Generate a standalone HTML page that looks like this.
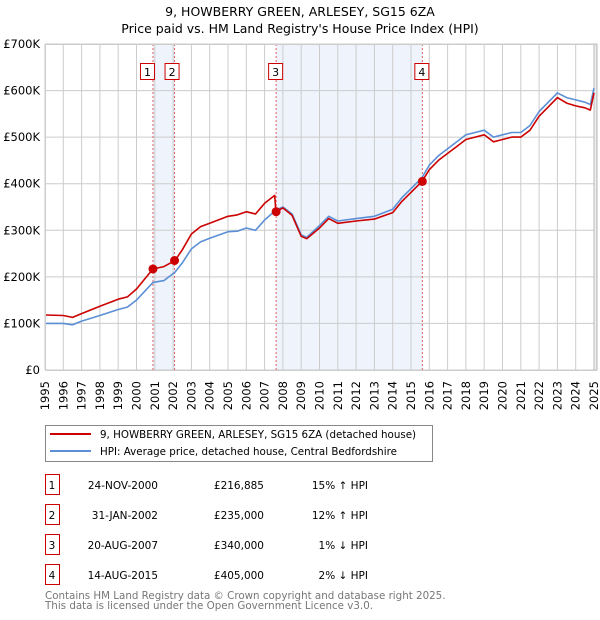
<!DOCTYPE html>
<html><head><meta charset="utf-8"><style>
body{margin:0;width:600px;height:620px;background:#fff;font-family:"Liberation Sans","DejaVu Sans",sans-serif;overflow:hidden}
svg{display:block}
</style></head><body>
<svg id="c" width="600" height="620" xmlns="http://www.w3.org/2000/svg" font-family="DejaVu Sans, Liberation Sans, sans-serif">
<text x="300" y="16" text-anchor="middle" font-size="12.5">9, HOWBERRY GREEN, ARLESEY, SG15 6ZA</text>
<text x="300" y="33" text-anchor="middle" font-size="12.5">Price paid vs. HM Land Registry's House Price Index (HPI)</text>
<g id="plot"></g>
<g>
<rect x="45.5" y="425.5" width="387" height="36" fill="#fff" stroke="#888"/>
<line x1="50" y1="434" x2="91" y2="434" stroke="#cc0000" stroke-width="2"/>
<text x="100" y="438" font-size="10.3">9, HOWBERRY GREEN, ARLESEY, SG15 6ZA (detached house)</text>
<line x1="50" y1="451" x2="91" y2="451" stroke="#5b8fd6" stroke-width="2"/>
<text x="100" y="455" font-size="10.3">HPI: Average price, detached house, Central Bedfordshire</text>
</g>
<g id="table" font-size="10.5"></g>
<text x="45" y="599" font-size="10.3" fill="#777">Contains HM Land Registry data © Crown copyright and database right 2025.</text>
<text x="45" y="609" font-size="10.3" fill="#777">This data is licensed under the Open Government Licence v3.0.</text>
</svg>
<script>
const hpiYears=[1995,1996,1996.5,1997,1998,1999,1999.5,2000,2000.9,2001.5,2002.1,2002.5,2003,2003.5,2004,2005,2005.5,2006,2006.5,2007,2007.6,2008,2008.5,2009,2009.3,2010,2010.5,2011,2012,2013,2014,2014.5,2015.6,2016,2016.5,2017,2017.5,2018,2018.5,2019,2019.5,2020,2020.5,2021,2021.5,2022,2022.5,2023,2023.5,2024,2024.5,2024.8,2025];
const hpiValues=[100,100,97,105,117,130,135,150,188,192,210,230,260,275,283,297,298,305,300,322,343,350,335,290,285,310,330,320,325,330,345,370,413,440,460,475,490,505,510,515,500,505,510,510,525,555,575,595,585,580,575,570,605];
const propYears=[1995,1996,1996.5,1997,1998,1999,1999.5,2000,2000.9,2001.5,2002.1,2002.5,2003,2003.5,2004,2005,2005.5,2006,2006.5,2007,2007.55,2007.62,2008,2008.5,2009,2009.3,2010,2010.5,2011,2012,2013,2014,2014.5,2015.6,2016,2016.5,2017,2017.5,2018,2018.5,2019,2019.5,2020,2020.5,2021,2021.5,2022,2022.5,2023,2023.5,2024,2024.5,2024.8,2025];
const propValues=[118,117,113,121,137,152,157,174,217,222,235,258,292,308,315,330,333,340,335,358,375,340,348,332,287,282,305,325,315,320,324,338,362,405,430,450,465,480,495,500,505,490,495,500,500,515,545,565,585,573,567,563,558,595];
const saleLabels=["1","2","3","4"];
const saleYears=[2000.9,2002.08,2007.63,2015.62];
const saleValues=[216.885,235,340,405];
const saleDates=["24-NOV-2000","31-JAN-2002","20-AUG-2007","14-AUG-2015"];
const salePrices=["£216,885","£235,000","£340,000","£405,000"];
const saleHpi=["15% ↑ HPI","12% ↑ HPI","1% ↓ HPI","2% ↓ HPI"];
const yTicks=[0,100,200,300,400,500,600,700];
const yTickLabels=["£0","£100K","£200K","£300K","£400K","£500K","£600K","£700K"];

const NS="http://www.w3.org/2000/svg";
const X0=45,X1=597,Y0=370,Y1=44;
const xs=y=>X0+(y-1995)*18.3;
const ys=v=>Y0-(v/700)*(Y0-Y1);
const plot=document.getElementById('plot');
function mk(tag,attrs,parent){const e=document.createElementNS(NS,tag);for(const k in attrs)e.setAttribute(k,attrs[k]);(parent||plot).appendChild(e);return e;}
for(const [a,b] of [[0,1],[2,3]]){
 const r=mk('rect',{x:xs(saleYears[a]),y:Y1,width:xs(saleYears[b])-xs(saleYears[a]),height:Y0-Y1,fill:'#eef3fc'});
 
 
}
for(let yr=1995;yr<=2025;yr++){
 const l=mk('line',{x1:xs(yr),x2:xs(yr),y1:Y1,y2:Y0,stroke:'#ccc','stroke-width':1});
 
 
 const tx=xs(yr)+4,ty=381;
 const t=mk('text',{x:tx,y:ty,'text-anchor':'end','font-size':11.5,transform:`rotate(-90 ${tx} ${ty})`});
 t.textContent=yr;
 
 
}
yTicks.forEach((v,i)=>{
 const l=mk('line',{x1:X0,x2:X1,y1:ys(v),y2:ys(v),stroke:'#ccc','stroke-width':1});
 
 
 const t=mk('text',{x:40,y:ys(v)+4,'text-anchor':'end','font-size':11.5});
 t.textContent=yTickLabels[i];
 
 
});
const hz=mk('rect',{x:xs(2025),y:Y1,width:X1-xs(2025),height:Y0-Y1,fill:'#eee',stroke:'#bbb'});


saleYears.forEach((s,i)=>{
 const l=mk('line',{x1:xs(s),x2:xs(s),y1:Y1,y2:Y0,stroke:'#e06060','stroke-width':1,'stroke-dasharray':'2,2'});
 
 
});
function path(xsArr,vArr,color,name){
 let d='';xsArr.forEach((x,i)=>{d+=(i?'L':'M')+xs(x).toFixed(1)+','+ys(vArr[i]).toFixed(1);});
 const p=mk('path',{d:d,fill:'none',stroke:color,'stroke-width':1.6,'stroke-linejoin':'round'});
 
 
}
path(hpiYears,hpiValues,'#5b8fd6','hpi-line');
path(propYears,propValues,'#cc0000','property-line');
saleYears.forEach((s,i)=>{
 const c=mk('circle',{cx:xs(s),cy:ys(saleValues[i]),r:4.5,fill:'#cc0000'});
 
 
 const bx=xs(s)+(i===0?-5:i===1?-2:0);
 const r=mk('rect',{x:bx-7.5,y:63.5,width:14,height:16,fill:'#fff',stroke:'#cc0000'});
 
 
 const t=mk('text',{x:bx-0.5,y:76,'text-anchor':'middle','font-size':11});
 t.textContent=saleLabels[i];
 
 
});
mk('rect',{x:X0+0.5,y:Y1+0.5,width:X1-X0-1,height:Y0-Y1,fill:'none',stroke:'#ccc'});
const tb=document.getElementById('table');
saleLabels.forEach((lab,i)=>{
 const y=487+i*30;
 const r=mk('rect',{x:45.5,y:y-12.5,width:14,height:20,fill:'#fff',stroke:'#cc0000'},tb);
 
 
 const cells=[[52,lab,'middle'],[158,saleDates[i],'end'],[264,salePrices[i],'end'],[368,saleHpi[i],'end']];
 cells.forEach(c=>{
  const t=mk('text',{x:c[0],y:y+2,'text-anchor':c[2],'font-size':10.5},tb);
  t.textContent=c[1];
  
  
 });
});
</script>
</body></html>
